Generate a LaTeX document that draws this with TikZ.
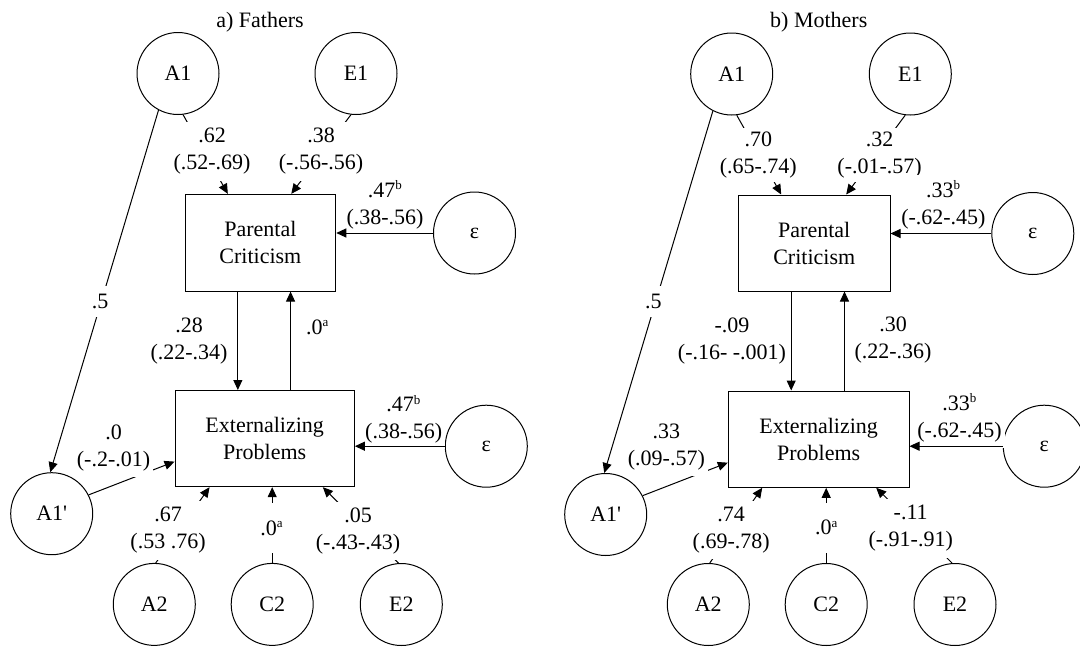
\documentclass[tikz,border=0pt]{standalone}
\usepackage{fontspec}
\setmainfont{Liberation Serif}
\usetikzlibrary{arrows.meta}
% small raised note letter after a coefficient
\newcommand{\notemark}[1]{\textsuperscript{\fontsize{13pt}{13pt}\selectfont #1}}
\begin{document}
\begin{tikzpicture}[x=1pt,y=-1pt,
  every node/.style={font=\fontsize{22pt}{27pt}\selectfont},
  latent/.style={draw,circle,minimum size=82pt,inner sep=0pt,line width=1pt},
  obs/.style={draw,rectangle,align=center,inner sep=0pt,line width=1pt},
  coef/.style={fill=white,align=center,inner xsep=3pt,inner ysep=6pt},
  conn/.style={line width=1pt,-{Triangle[length=10pt,width=9pt]}},
]
\useasboundingbox (0,0) rectangle (1080,646);
\clip (0,0) rectangle (1080,646);

% ---------------- a) Fathers ----------------
\node (fT) at (260,22) {a) Fathers};
\node[latent] (fA1) at (178,73.5) {A1};
\node[latent] (fE1) at (356,73.5) {E1};
\node[latent] (fEa) at (474.5,233) {ε};
\node[latent] (fEb) at (486.3,446.2) {ε};
\node[latent] (fA1p) at (51.7,513.7) {A1\textquotesingle};
\node[latent] (fA2) at (154.3,604.4) {A2};
\node[latent] (fC2) at (272.2,604.4) {C2};
\node[latent] (fE2) at (401.3,604.5) {E2};
\node[obs,minimum width=150.7pt,minimum height=96.7pt] (fPC) at (260.4,242.7) {Parental\\Criticism};
\node[obs,minimum width=179.3pt,minimum height=96.2pt] (fEP) at (264.7,438.6) {Externalizing\\Problems};

\coordinate (fPCa) at ([xshift=43.3pt]fPC.north west);
\coordinate (fPCe) at ([xshift=106.7pt]fPC.north west);
\coordinate (fdn) at ([xshift=53.3pt]fPC.south west);
\coordinate (fup) at ([xshift=116pt]fEP.north west);
\coordinate (fEPl) at ([yshift=-23pt]fEP.west);
\coordinate (fEPa) at ([xshift=35pt]fEP.south west);
\coordinate (fEPe) at ([xshift=148.3pt]fEP.south west);

% paths broken by their coefficient labels
\draw[conn] (fA1.-83) -- (fPCa);
\draw[conn] (fE1.-97) -- (fPCe);
\draw[conn] (fA1.-118) -- (fA1p.92);
\draw[conn] (fA1p.27) -- (fEPl);
\draw[conn] (fA2.88) -- (fEPa);
\draw[conn] (fC2.north) -- (fC2.north |- fEP.south);
\draw[conn] (fE2.94) -- (fEPe);

\node[coef] (fL1) at (212,151.5) {.62\\(.52-.69)};
\node[coef] (fL2) at (321,151.5) {.38\\(-.56-.56)};
\node[coef] (fL3) at (385,205) {.47\notemark{b}\\(.38-.56)};
\node[coef] (fL4) at (189,341.5) {.28\\(.22-.34)};
\node[coef] (fL5) at (317.5,327) {.0\notemark{a}};
\node[coef] (fL6) at (403.7,419.3) {.47\notemark{b}\\(.38-.56)};
\node[coef,inner ysep=8pt] (fL7) at (100,301.7) {.5};
\node[coef] (fL8) at (113.5,448.3) {.0\\(-.2-.01)};
\node[coef] (fL9) at (168,530.5) {.67\\(.53 .76)};
\node[coef,minimum height=50pt] (fL10) at (271.7,528) {.0\notemark{a}};
\node[coef] (fL11) at (358,531) {.05\\(-.43-.43)};

% paths left unbroken
\draw[conn] (fEa.west) -- (fEa.west -| fPC.east);
\draw[conn] (fEb.west) -- (fEb.west -| fEP.east);
\draw[conn] (fdn) -- (fdn |- fEP.north);
\draw[conn] (fup) -- (fup |- fPC.south);

% ---------------- b) Mothers ----------------
\node (mT) at (818.8,22) {b) Mothers};
\node[latent] (mA1) at (731.7,74) {A1};
\node[latent] (mE1) at (910.3,74) {E1};
\node[latent] (mEa) at (1032.8,233.5) {ε};
\node[latent] (mEb) at (1044.3,446.2) {ε};
\node[latent] (mA1p) at (605.7,514.5) {A1\textquotesingle};
\node[latent] (mA2) at (708.3,604.5) {A2};
\node[latent] (mC2) at (826.2,604.5) {C2};
\node[latent] (mE2) at (955,604.5) {E2};
\node[obs,minimum width=151.5pt,minimum height=96pt] (mPC) at (814.25,243) {Parental\\Criticism};
\node[obs,minimum width=180.7pt,minimum height=96.3pt] (mEP) at (818.65,439.15) {Externalizing\\Problems};

\coordinate (mPCa) at ([xshift=43.2pt]mPC.north west);
\coordinate (mPCe) at ([xshift=108.2pt]mPC.north west);
\coordinate (mdn) at ([xshift=53.2pt]mPC.south west);
\coordinate (mup) at ([xshift=116.7pt]mEP.north west);
\coordinate (mEPl) at ([yshift=-23.5pt]mEP.west);
\coordinate (mEPa) at ([xshift=34.4pt]mEP.south west);
\coordinate (mEPe) at ([xshift=148.4pt]mEP.south west);

% paths broken by their coefficient labels
\draw[conn] (mA1.-83) -- (mPCa);
\draw[conn] (mE1.-97) -- (mPCe);
\draw[conn] (mA1.-117) -- (mA1p.92);
\draw[conn] (mA1p.27) -- (mEPl);
\draw[conn] (mA2.88) -- (mEPa);
\draw[conn] (mC2.north) -- (mC2.north |- mEP.south);
\draw[conn] (mE2.94) -- (mEPe);

\node[coef,inner ysep=4pt] (mL1) at (758.3,155) {.70\\(.65-.74)};
\node[coef,inner ysep=4pt] (mL2) at (879.6,154.7) {.32\\(-.01-.57)};
\node[coef] (mL3) at (943.4,204.7) {.33\notemark{b}\\(-.62-.45)};
\node[coef] (mL4) at (732,341) {-.09\\(-.16- -.001)};
\node[coef] (mL5) at (893,340.5) {.30\\(.22-.36)};
\node[coef] (mL6) at (959.5,418) {.33\notemark{b}\\(-.62-.45)};
\node[coef,inner ysep=8pt] (mL7) at (653.3,301.7) {.5};
\node[coef] (mL8) at (666.4,447.3) {.33\\(.09-.57)};
\node[coef] (mL9) at (731.2,530) {.74\\(.69-.78)};
\node[coef,minimum height=50pt] (mL10) at (826.5,527.5) {.0\notemark{a}};
\node[coef] (mL11) at (910.7,528.5) {-.11\\(-.91-.91)};

% paths left unbroken
\draw[conn] (mEa.west) -- (mEa.west -| mPC.east);
\draw[conn] (mEb.west) -- (mEb.west -| mEP.east);
\draw[conn] (mdn) -- (mdn |- mEP.north);
\draw[conn] (mup) -- (mup |- mPC.south);
\end{tikzpicture}
\end{document}
